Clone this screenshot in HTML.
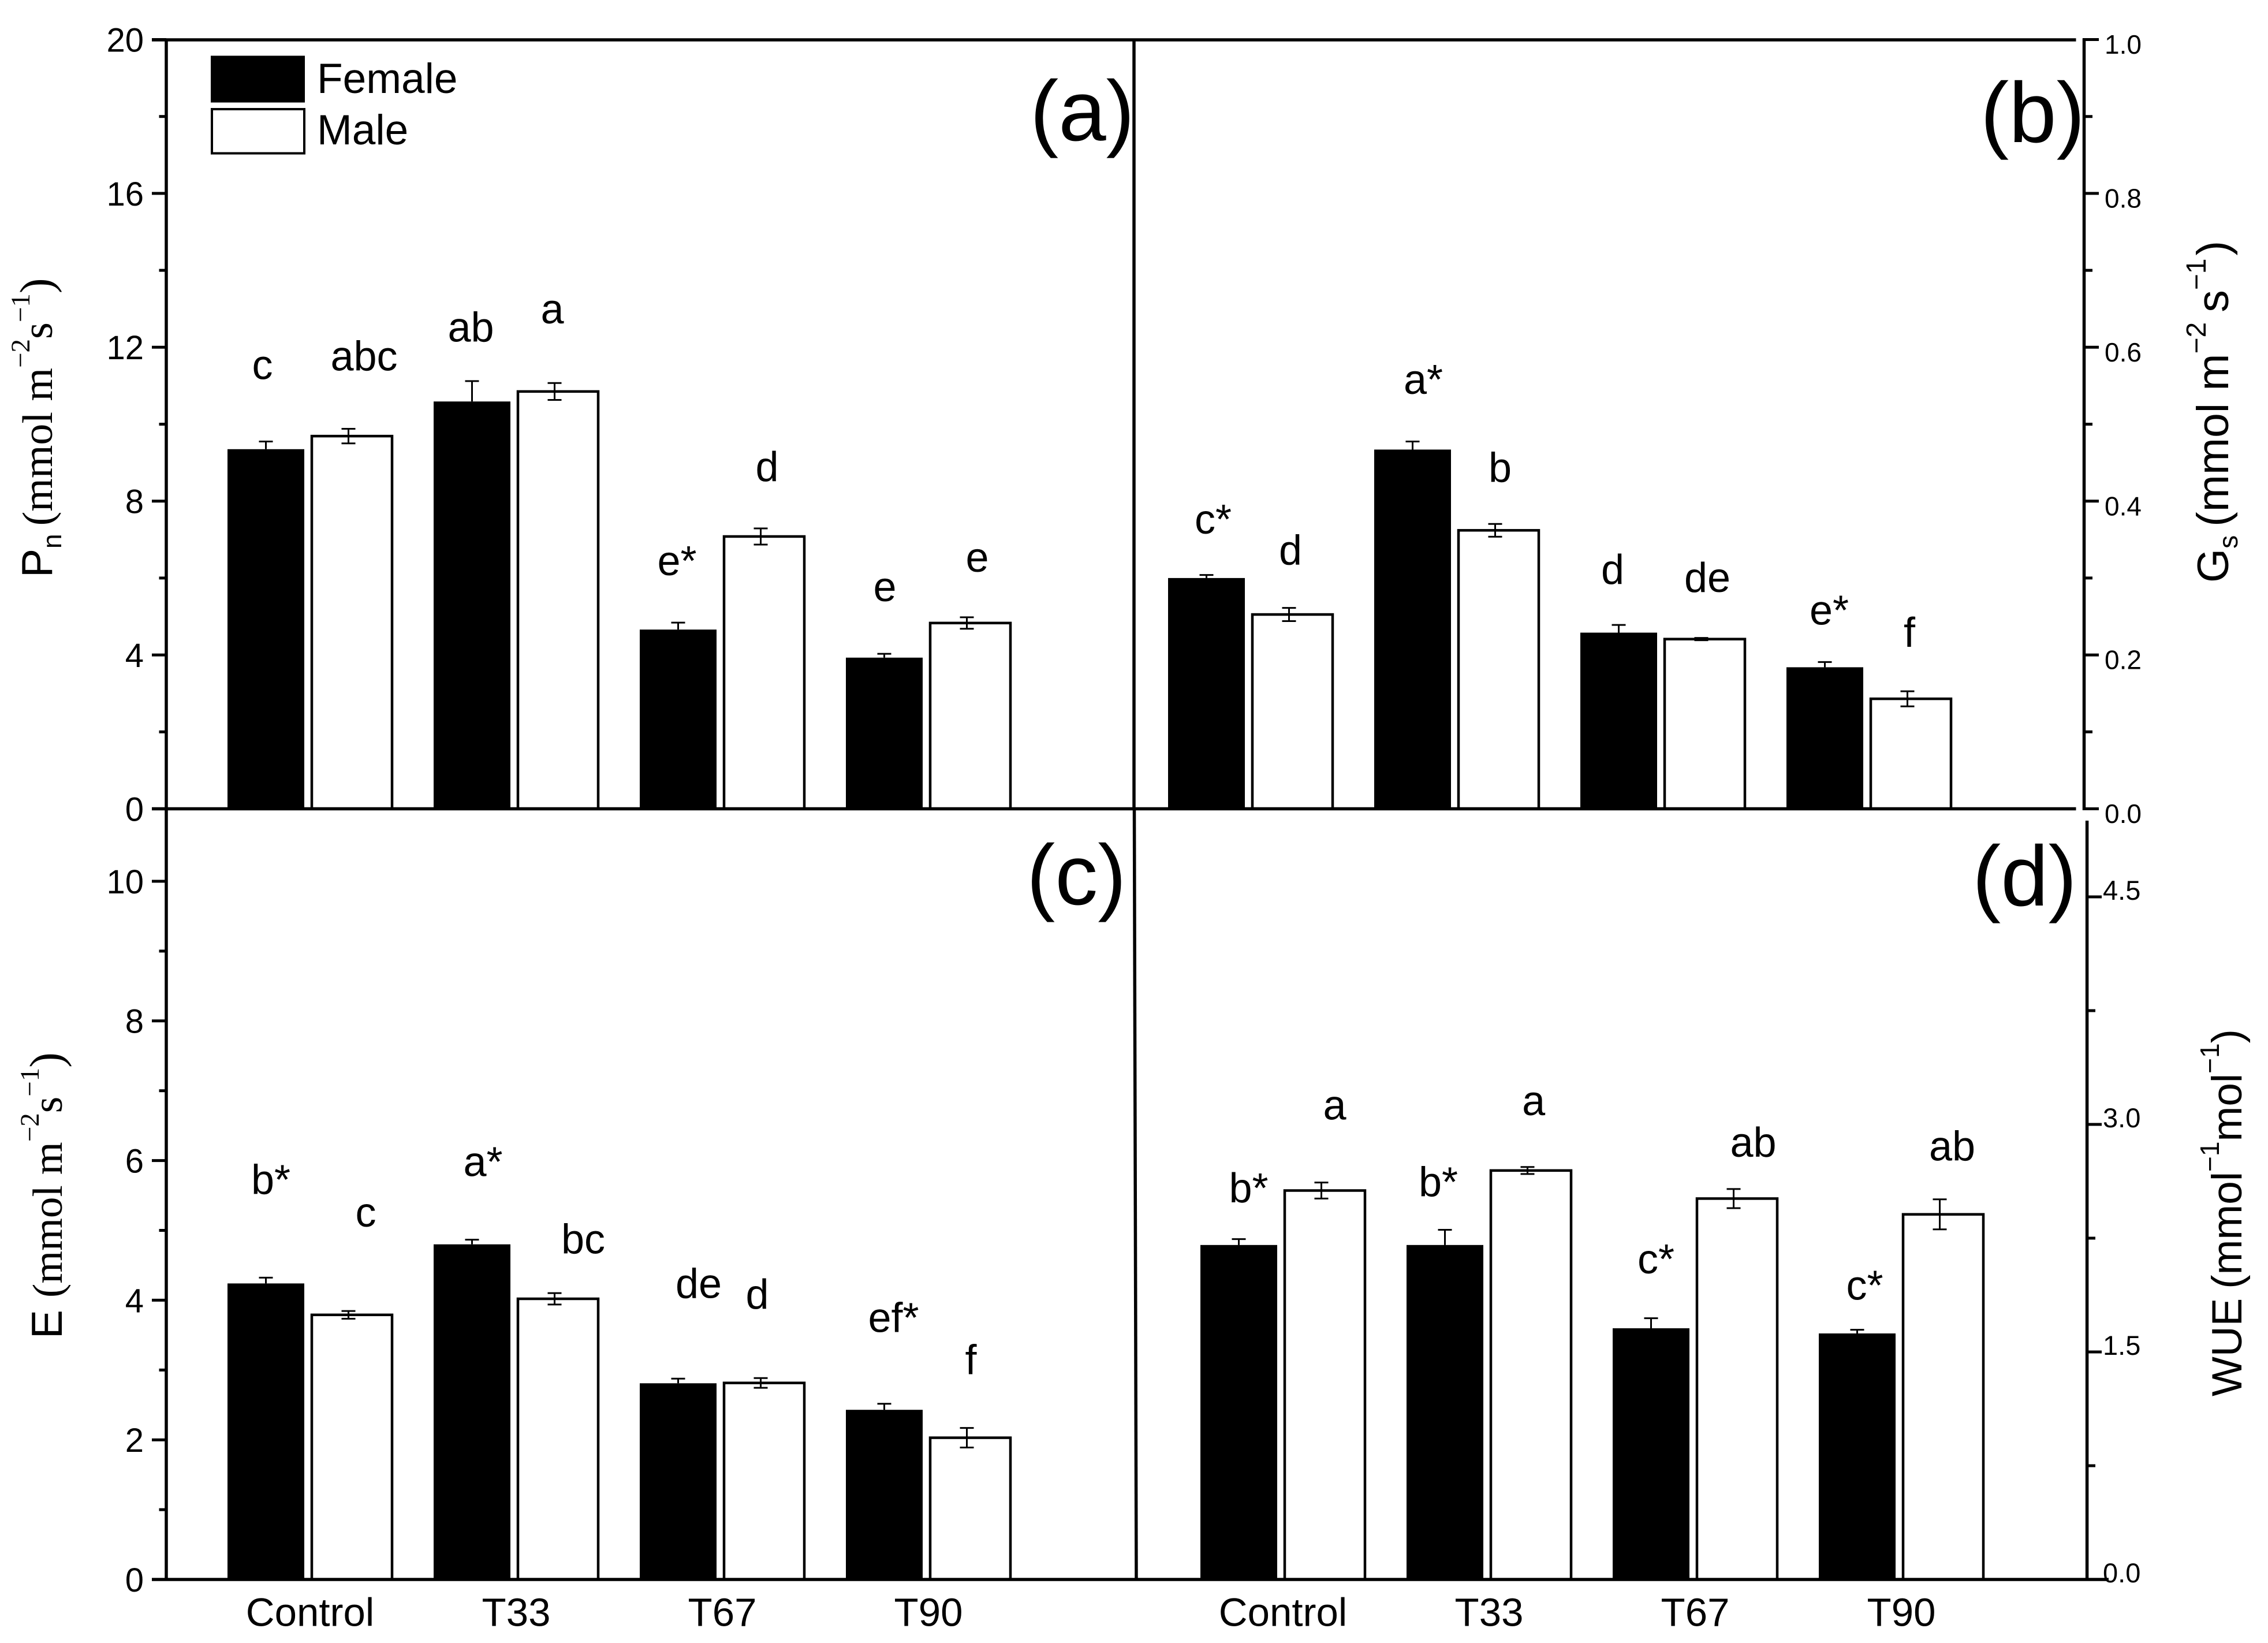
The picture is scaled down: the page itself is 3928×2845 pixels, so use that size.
<!DOCTYPE html>
<html lang="en">
<head>
<meta charset="utf-8">
<title>Photosynthetic traits of female and male plants</title>
<style>
html,body{margin:0;padding:0;background:#fff;}
svg{display:block;}
text{font-family:"Liberation Sans",sans-serif;fill:#000;}
.serif{font-family:"Liberation Serif",serif;}
.sans{font-family:"Liberation Sans",sans-serif;}
</style>
</head>
<body>
<svg id="chart" xmlns="http://www.w3.org/2000/svg" width="3928" height="2845" viewBox="0 0 3928 2845">
<rect x="0" y="0" width="3928" height="2845" fill="#fff"/>
<g id="marks"></g>
<g id="axes" stroke="#000" stroke-width="5.5">
<line x1="263" y1="69" x2="3595.5" y2="69"/>
<line x1="263" y1="1400.5" x2="3595.5" y2="1400.5"/>
<line x1="263" y1="2735" x2="3652" y2="2735"/>
<line x1="288" y1="66.5" x2="288" y2="1403"/>
<line x1="288" y1="1403" x2="288" y2="2737.5"/>
<line x1="1964" y1="69" x2="1964" y2="1400"/>
<line x1="1964.5" y1="1403" x2="1968" y2="2735"/>
<line x1="3609.5" y1="66.5" x2="3609.5" y2="1403"/>
<line x1="3614.6" y1="1421" x2="3614.6" y2="2737.5"/>
</g>
<g id="ticks"></g>
<g>
<rect x="365" y="96.5" width="163" height="81" fill="#000"/>
<rect x="367" y="189" width="160" height="76.5" fill="#fff" stroke="#000" stroke-width="4"/>
<text x="549" y="161" font-size="73">Female</text>
<text x="549" y="250" font-size="73">Male</text>
</g>
<g font-size="148">
<text x="1784" y="243">(a)</text>
<text x="3430" y="246">(b)</text>
<text x="1778" y="1566">(c)</text>
<text x="3416" y="1568">(d)</text>
</g>
<g>
<text transform="translate(90,1000) rotate(-90)"><tspan class="sans" font-size="75">P</tspan><tspan class="sans" font-size="46" dy="16">n</tspan><tspan class="serif" font-size="74" dy="-16" dx="14">(mmol m</tspan><tspan class="serif" font-size="47" dy="-39">−2</tspan><tspan class="serif" font-size="74" dy="39">s</tspan><tspan class="serif" font-size="47" dy="-39">−1</tspan><tspan class="serif" font-size="80" dy="39">)</tspan></text>
<text transform="translate(107,2318) rotate(-90)"><tspan class="sans" font-size="75">E</tspan><tspan class="serif" font-size="73" dx="21">(mmol m</tspan><tspan class="serif" font-size="47" dy="-40">−2</tspan><tspan class="serif" font-size="73" dy="40">s</tspan><tspan class="serif" font-size="47" dy="-40">−1</tspan><tspan class="serif" font-size="80" dy="40">)</tspan></text>
<text transform="translate(3859,1009) rotate(-90)"><tspan font-size="76">G</tspan><tspan font-size="46" dy="16">s</tspan><tspan font-size="77" dy="-16" dx="15">(mmol m</tspan><tspan font-size="48" dy="-39">−2</tspan><tspan font-size="77" dy="39" dx="17">s</tspan><tspan font-size="48" dy="-39">−1</tspan><tspan font-size="77" dy="39" dx="5">)</tspan></text>
<text transform="translate(3882,2418) rotate(-90)"><tspan font-size="73">WUE</tspan><tspan font-size="73" dx="16">(mmol</tspan><tspan font-size="46" dy="-39">−1</tspan><tspan font-size="73" dy="39">mol</tspan><tspan font-size="46" dy="-39">−1</tspan><tspan font-size="73" dy="39">)</tspan></text>
</g>
<g id="annotations"></g>
<g id="xlabels"></g>
</svg>
<script>
// Categories
const categories = ['Control', 'T33', 'T67', 'T90'];

// Panel (a) Pn
const pnFemale = [9.35, 10.59, 4.66, 3.93];
const pnFemaleErr = [0.20, 0.53, 0.18, 0.10];
const pnMale = [9.69, 10.85, 7.08, 4.83];
const pnMaleErr = [0.19, 0.22, 0.21, 0.15];
const pnFemaleLetters = ['c', 'ab', 'e*', 'e'];
const pnMaleLetters = ['abc', 'a', 'd', 'e'];
const pnTicks = [0, 4, 8, 12, 16, 20];
const pnTickLabels = ['0', '4', '8', '12', '16', '20'];

// Panel (b) Gs
const gsFemale = [0.300, 0.467, 0.229, 0.184];
const gsFemaleErr = [0.004, 0.0105, 0.010, 0.0068];
const gsMale = [0.2526, 0.362, 0.2206, 0.143];
const gsMaleErr = [0.0086, 0.0083, 0.0015, 0.0098];
const gsFemaleLetters = ['c*', 'a*', 'd', 'e*'];
const gsMaleLetters = ['d', 'b', 'de', 'f'];
const gsTicks = [0, 0.2, 0.4, 0.6, 0.8, 1.0];
const gsTickLabels = ['0.0', '0.2', '0.4', '0.6', '0.8', '1.0'];

// Panel (c) E
const eFemale = [4.24, 4.80, 2.81, 2.43];
const eFemaleErr = [0.083, 0.067, 0.066, 0.087];
const eMale = [3.79, 4.02, 2.815, 2.03];
const eMaleErr = [0.055, 0.082, 0.07, 0.14];
const eFemaleLetters = ['b*', 'a*', 'de', 'ef*'];
const eMaleLetters = ['c', 'bc', 'd', 'f'];
const eTicks = [0, 2, 4, 6, 8, 10];
const eTickLabels = ['0', '2', '4', '6', '8', '10'];

// Panel (d) WUE
const wueFemale = [2.205, 2.205, 1.656, 1.622];
const wueFemaleErr = [0.039, 0.10, 0.066, 0.024];
const wueMale = [2.564, 2.696, 2.511, 2.407];
const wueMaleErr = [0.053, 0.023, 0.063, 0.099];
const wueFemaleLetters = ['b*', 'b*', 'c*', 'c*'];
const wueMaleLetters = ['a', 'a', 'ab', 'ab'];
const wueTicks = [0, 1.5, 3.0, 4.5];
const wueTickLabels = ['0.0', '1.5', '3.0', '4.5'];

const NS = 'http://www.w3.org/2000/svg';
const GROUP_STEP = 357;
const marks = document.getElementById('marks');
const ticksLayer = document.getElementById('ticks');
const notes = document.getElementById('annotations');
const xLabels = document.getElementById('xlabels');

function svgEl(tag, parent, props) {
  const e = document.createElementNS(NS, tag);
  for (const k in props) e.setAttribute(k, props[k]);
  parent.appendChild(e);
  return e;
}

function makePanel(id, originX, y0, pxPerUnit, female, femaleErr, male, maleErr) {
  const yScale = v => y0 - v * pxPerUnit;
  const femaleCentre = i => originX + 66.5 + i * GROUP_STEP;
  const maleCentre = i => originX + 215.5 + i * GROUP_STEP;
  categories.forEach((cat, i) => {
    const fTop = yScale(female[i]);
    const fBar = svgEl('rect', marks, {x: femaleCentre(i) - 66.5, y: fTop, width: 133, height: y0 - fTop, fill: '#000'});
    
    

    const mTop = yScale(male[i]);
    const mBar = svgEl('rect', marks, {x: maleCentre(i) - 69.5, y: mTop, width: 139, height: y0 - mTop, fill: '#fff', stroke: '#000', 'stroke-width': 4.5});
    
    

    const fUp = yScale(female[i] + femaleErr[i]);
    const fErr = svgEl('path', marks, {d: 'M' + femaleCentre(i) + ' ' + fTop + 'V' + fUp + 'M' + (femaleCentre(i) - 12) + ' ' + fUp + 'H' + (femaleCentre(i) + 12), stroke: '#000', 'stroke-width': 3, fill: 'none'});
    
    

    const mUp = yScale(male[i] + maleErr[i]);
    const mDown = yScale(male[i] - maleErr[i]);
    const mx = maleCentre(i) - 6;
    const mErr = svgEl('path', marks, {d: 'M' + mx + ' ' + mDown + 'V' + mUp + 'M' + (mx - 12) + ' ' + mUp + 'H' + (mx + 12) + 'M' + (mx - 12) + ' ' + mDown + 'H' + (mx + 12), stroke: '#000', 'stroke-width': 3, fill: 'none'});
    
    
  });
  return {id, yScale, female, femaleErr, male, maleErr, femaleCentre, maleCentre};
}

function drawTicks(panel, values, labels, axisX, dir, majorEnd, minorEnd, labelX, labelShift, fontSize) {
  values.forEach((v, i) => {
    const y = panel.yScale(v);
    const t = svgEl('line', ticksLayer, {x1: axisX, x2: majorEnd, y1: y, y2: y, stroke: '#000', 'stroke-width': 5});
    
    

    const lab = svgEl('text', ticksLayer, {x: labelX, y: y + labelShift + fontSize * 0.36, 'font-size': fontSize, 'text-anchor': dir < 0 ? 'end' : 'start'});
    lab.textContent = labels[i];
    
    

    if (i < values.length - 1) {
      const my = panel.yScale((v + values[i + 1]) / 2);
      const m = svgEl('line', ticksLayer, {x1: axisX, x2: minorEnd, y1: my, y2: my, stroke: '#000', 'stroke-width': 5});
      
      
    }
  });
}

function letterF(panel, letters, i, dx, gap) {
  const top = panel.yScale(panel.female[i] + panel.femaleErr[i]);
  const t = svgEl('text', notes, {x: panel.femaleCentre(i) + dx, y: top - gap, 'font-size': 72, 'text-anchor': 'middle'});
  t.textContent = letters[i];
  
  
}

function letterM(panel, letters, i, dx, gap) {
  const top = panel.yScale(panel.male[i] + panel.maleErr[i]);
  const t = svgEl('text', notes, {x: panel.maleCentre(i) + dx, y: top - gap, 'font-size': 72, 'text-anchor': 'middle'});
  t.textContent = letters[i];
  
  
}

const panelA = makePanel('a', 394, 1400.5, 66.6, pnFemale, pnFemaleErr, pnMale, pnMaleErr);
const panelB = makePanel('b', 2023, 1400.5, 1332, gsFemale, gsFemaleErr, gsMale, gsMaleErr);
const panelC = makePanel('c', 394, 2735, 120.9, eFemale, eFemaleErr, eMale, eMaleErr);
const panelD = makePanel('d', 2079, 2735, 262.67, wueFemale, wueFemaleErr, wueMale, wueMaleErr);

drawTicks(panelA, pnTicks, pnTickLabels, 288, -1, 263, 275.5, 249, 0, 58);
drawTicks(panelB, gsTicks, gsTickLabels, 3607, 1, 3635, 3624, 3645, 8, 46);
drawTicks(panelC, eTicks, eTickLabels, 288, -1, 263, 275.5, 249, 0, 58);
drawTicks(panelD, wueTicks, wueTickLabels, 3614, 1, 3640, 3629, 3642, -12, 47);

letterF(panelA, pnFemaleLetters, 0, -6, 108);
letterM(panelA, pnMaleLetters, 0, 21, 101);
letterF(panelA, pnFemaleLetters, 1, -2, 68.5);
letterM(panelA, pnMaleLetters, 1, -10, 103);
letterF(panelA, pnFemaleLetters, 2, -2, 82);
letterM(panelA, pnMaleLetters, 2, 5, 82);
letterF(panelA, pnFemaleLetters, 3, 1, 91);
letterM(panelA, pnMaleLetters, 3, 12, 79);

letterF(panelB, gsFemaleLetters, 0, 11.5, 71.5);
letterM(panelB, gsMaleLetters, 0, -3.5, 75);
letterF(panelB, gsFemaleLetters, 1, 18.5, 82.7);
letterM(panelB, gsMaleLetters, 1, 2.5, 72.7);
letterF(panelB, gsFemaleLetters, 2, -10.5, 71);
letterM(panelB, gsMaleLetters, 2, 4.5, 79.5);
letterF(panelB, gsFemaleLetters, 3, 7.5, 65);
letterM(panelB, gsMaleLetters, 3, -2.5, 77);

letterF(panelC, eFemaleLetters, 0, 8.5, 145);
letterM(panelC, eMaleLetters, 0, 24, 146);
letterF(panelC, eFemaleLetters, 1, 19, 110);
letterM(panelC, eMaleLetters, 1, 43.5, 68.8);
letterF(panelC, eFemaleLetters, 2, 35.5, 140);
letterM(panelC, eMaleLetters, 2, -12, 120);
letterF(panelC, eFemaleLetters, 3, 16, 124);
letterM(panelC, eMaleLetters, 3, 1, 93);

letterF(panelD, wueFemaleLetters, 0, 17, 63.5);
letterM(panelD, wueMaleLetters, 0, 17, 109);
letterF(panelD, wueFemaleLetters, 1, -11.5, 58);
letterM(panelD, wueMaleLetters, 1, 4.7, 89.6);
letterF(panelD, wueFemaleLetters, 2, 8.5, 77.6);
letterM(panelD, wueMaleLetters, 2, 28, 55.8);
letterF(panelD, wueFemaleLetters, 3, 13, 52);
letterM(panelD, wueMaleLetters, 3, 15.5, 67);

categories.forEach((cat, i) => {
  const left = svgEl('text', xLabels, {x: 537 + i * GROUP_STEP, y: 2815.5, 'font-size': 69, 'text-anchor': 'middle'});
  left.textContent = cat;
  
  

  const right = svgEl('text', xLabels, {x: 2222 + i * GROUP_STEP, y: 2815.5, 'font-size': 69, 'text-anchor': 'middle'});
  right.textContent = cat;
  
  
});
</script>
</body>
</html>
